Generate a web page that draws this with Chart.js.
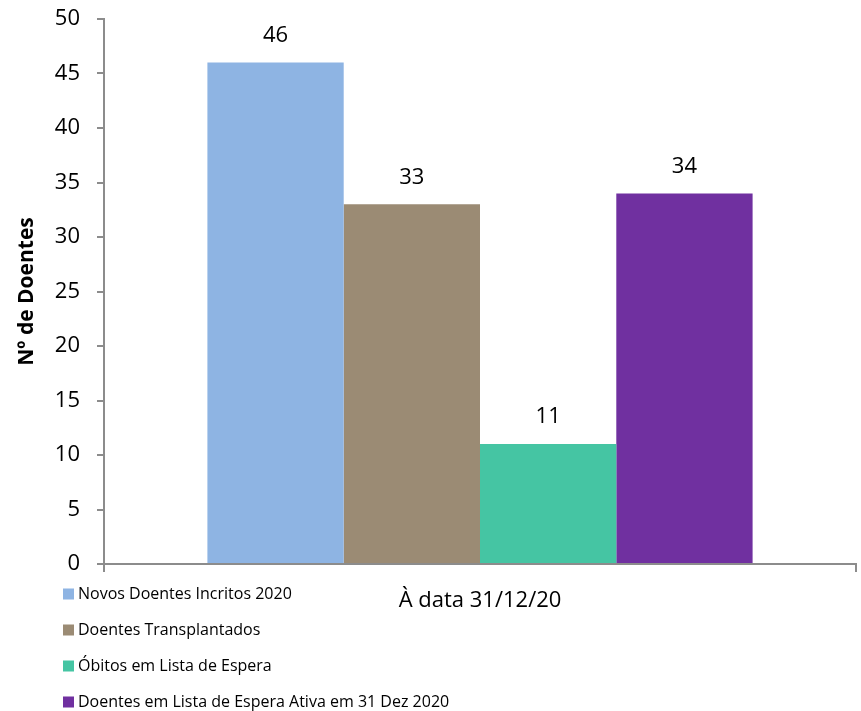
<!DOCTYPE html>
<html>
<head>
<meta charset="utf-8">
<script src="https://cdn.jsdelivr.net/npm/chart.js@4/dist/chart.umd.min.js"></script>
<style>
  html, body { margin: 0; padding: 0; background: #ffffff; }
  #wrap { width: 861px; height: 711px; }
</style>
</head>
<body>
<div id="wrap"><canvas id="graph1" width="861" height="711"></canvas></div>
<script>
// Single category, four series
const categories = ['À data 31/12/20'];
const seriesNames = [
    'Novos Doentes Incritos 2020',
    'Doentes Transplantados',
    'Óbitos em Lista de Espera',
    'Doentes em Lista de Espera Ativa em 31 Dez 2020'
];
const seriesValues = [46, 33, 11, 34];
const seriesColors = ['#8EB4E3', '#9B8B74', '#45C5A3', '#7030A0'];
const yTicks = [0, 5, 10, 15, 20, 25, 30, 35, 40, 45, 50];

const fontFamily = '"Open Sans", Lato, sans-serif';
const axisGray = '#8c8c8c';

// value above each bar
const valueLabels = {
    id: 'valueLabels',
    afterDatasetsDraw(chart) {
        const ctx = chart.ctx;
        ctx.save();
        ctx.font = '22px ' + fontFamily;
        ctx.fillStyle = '#000';
        ctx.textAlign = 'center';
        ctx.textBaseline = 'middle';
        chart.data.datasets.forEach((ds, i) => {
            chart.getDatasetMeta(i).data.forEach((bar, j) => {
                ctx.fillText(ds.data[j], bar.x, bar.y - 27);
            });
        });
        ctx.restore();
    }
};

// vertical legend in the bottom-left corner
const sideLegend = {
    id: 'sideLegend',
    afterDraw(chart) {
        const ctx = chart.ctx;
        ctx.save();
        ctx.font = '16px ' + fontFamily;
        ctx.textBaseline = 'middle';
        ctx.textAlign = 'left';
        chart.data.datasets.forEach((ds, i) => {
            const y = 594 + i * 36;
            ctx.fillStyle = ds.backgroundColor;
            ctx.fillRect(63, y - 5.5, 11, 11);
            ctx.fillStyle = '#000';
            ctx.fillText(ds.label, 78, y);
        });
        ctx.restore();
    }
};

const ctx = document.getElementById('graph1');
new Chart(ctx, {
    type: 'bar',
    data: {
        labels: categories,
        datasets: seriesNames.map((name, i) => ({
            label: name,
            data: [seriesValues[i]],
            backgroundColor: seriesColors[i],
            borderWidth: 0
        }))
    },
    options: {
        responsive: false,
        animation: false,
        layout: { padding: { top: 19, right: 5, bottom: 87, left: 0 } },
        datasets: { bar: { barPercentage: 1, categoryPercentage: 0.725 } },
        scales: {
            x: {
                afterFit: (scale) => { scale.height = 60; },
                border: { color: axisGray, width: 2 },
                grid: { display: true, drawOnChartArea: false, tickLength: 8, color: axisGray, lineWidth: 2 },
                ticks: { color: '#000', padding: 16, font: { family: fontFamily, size: 22 } }
            },
            y: {
                min: 0,
                max: 50,
                afterFit: (scale) => {
                    scale.width = 104;
                    scale.paddingTop = 0;
                    scale.paddingBottom = 0;
                },
                afterBuildTicks: (scale) => { scale.ticks = yTicks.map(v => ({ value: v })); },
                border: { color: axisGray, width: 2 },
                grid: { display: true, drawOnChartArea: false, tickLength: 7, color: axisGray, lineWidth: 2 },
                ticks: { color: '#000', padding: 17, font: { family: fontFamily, size: 22 } },
                title: {
                    display: true,
                    text: 'Nº de Doentes',
                    color: '#000',
                    padding: { top: 14, bottom: 0 },
                    font: { family: fontFamily, size: 21, weight: 'bold' }
                }
            }
        },
        plugins: {
            legend: { display: false },
            tooltip: { enabled: false }
        }
    },
    plugins: [valueLabels, sideLegend]
});
</script>
</body>
</html>
